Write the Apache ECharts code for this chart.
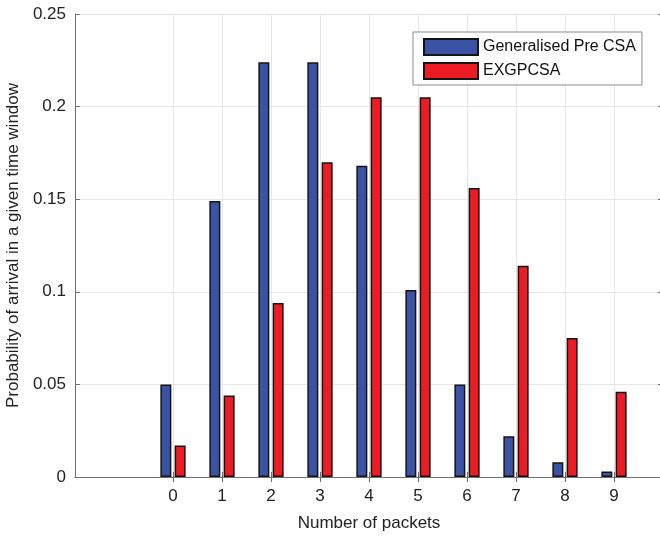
<!DOCTYPE html>
<html>
<head>
<meta charset="utf-8" />
<script src="https://cdn.jsdelivr.net/npm/echarts@6/dist/echarts.min.js"></script>
<title>Packets</title>
<style>
  html, body { margin: 0; padding: 0; background: #fff; }
</style>
</head>
<body>
<div id="main" style="width:660px;height:536px;"></div>
<script type="text/javascript">
// x runs from -2 to 10, ticks only on 0..9
var packets = ['-2', '-1', '0', '1', '2', '3', '4', '5', '6', '7', '8', '9', '10'];
var preCSA = [0.050, 0.149, 0.224, 0.224, 0.168, 0.101, 0.050, 0.022, 0.008, 0.003];
var exgpcsa = [0.017, 0.044, 0.094, 0.170, 0.205, 0.205, 0.156, 0.114, 0.075, 0.046];

function pad(arr) {
    return ['-', '-'].concat(arr).concat(['-']);
}
function shown(idx) {
    return idx >= 2 && idx <= 11;
}

var font = 'Liberation Sans, Arial, Helvetica, sans-serif';
var axisCol = '#707070';

var myChart = echarts.init(document.getElementById('main'));
var option = {
    animation: false,
    backgroundColor: '#fff',
    textStyle: { fontFamily: font },
    grid: { left: 75, right: -3, top: 14, bottom: 59, outerBoundsMode: 'none', containLabel: false },
    legend: {
        orient: 'vertical',
        left: 413, top: 32,
        itemWidth: 54, itemHeight: 16, itemGap: 6,
        padding: [6, 6, 5, 10],
        borderColor: '#8a8a8a', borderWidth: 1,
        backgroundColor: '#fff',
        icon: 'rect',
        textStyle: { fontSize: 16, color: '#111', fontFamily: font },
        data: ['Generalised Pre CSA', 'EXGPCSA']
    },
    xAxis: [{
        type: 'category',
        data: packets,
        boundaryGap: false,
        name: 'Number of packets',
        nameLocation: 'middle',
        nameGap: 38,
        nameTextStyle: { fontSize: 17, color: '#222', fontFamily: font },
        axisLine: { lineStyle: { color: axisCol } },
        axisTick: { inside: true, length: 5, interval: shown, lineStyle: { color: axisCol } },
        axisLabel: { interval: shown, fontSize: 17, color: '#222', margin: 11, fontFamily: font },
        splitLine: { show: true, interval: shown, lineStyle: { color: '#e6e6e6' } }
    }, {
        type: 'category',
        data: packets,
        boundaryGap: false,
        position: 'top',
        axisLine: { lineStyle: { color: axisCol } },
        axisTick: { inside: true, length: 5, interval: shown, lineStyle: { color: axisCol } },
        axisLabel: { show: false },
        splitLine: { show: false }
    }],
    yAxis: [{
        type: 'value',
        min: 0, max: 0.25, interval: 0.05,
        name: 'Probability of arrival in a given time window',
        nameLocation: 'middle',
        nameGap: 52,
        nameTextStyle: { fontSize: 17, color: '#222', fontFamily: font },
        axisLine: { show: true, lineStyle: { color: axisCol } },
        axisTick: { show: true, inside: true, length: 5, lineStyle: { color: axisCol } },
        axisLabel: { fontSize: 17, color: '#222', margin: 9, fontFamily: font },
        splitLine: { show: true, lineStyle: { color: '#e6e6e6' } }
    }, {
        type: 'value',
        min: 0, max: 0.25, interval: 0.05,
        position: 'right',
        axisLine: { show: true, lineStyle: { color: axisCol } },
        axisTick: { show: true, inside: true, length: 5, lineStyle: { color: axisCol } },
        axisLabel: { show: false },
        splitLine: { show: false }
    }],
    series: [{
        name: 'Generalised Pre CSA',
        type: 'bar',
        barWidth: 11,
        barGap: '30%',
        itemStyle: { color: '#3A53A4', borderColor: '#141414', borderWidth: 1.5 },
        data: pad(preCSA)
    }, {
        name: 'EXGPCSA',
        type: 'bar',
        barWidth: 11,
        barGap: '30%',
        itemStyle: { color: '#ED1C24', borderColor: '#141414', borderWidth: 1.5 },
        data: pad(exgpcsa)
    }]
};
myChart.setOption(option);
</script>
</body>
</html>
